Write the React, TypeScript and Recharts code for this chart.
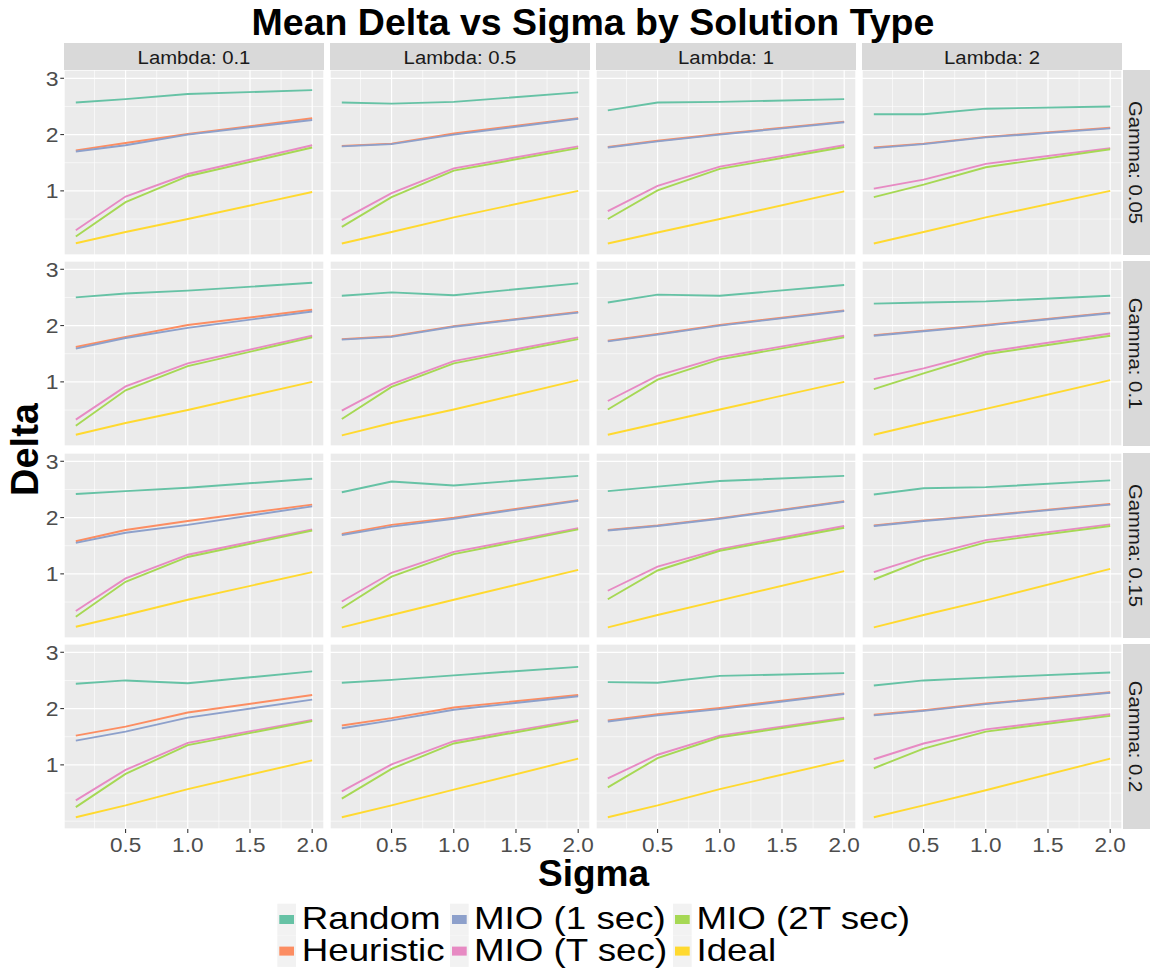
import React from 'react';
import { LineChart, Line, XAxis, YAxis, CartesianGrid } from 'recharts';

const SIGMA = [0.1, 0.5, 1.0, 2.0];
const LAMBDA_LABELS = ['0.1', '0.5', '1', '2'];
const GAMMA_LABELS = ['0.05', '0.1', '0.15', '0.2'];
const SERIES_KEYS = ['random', 'heuristic', 'mio1', 'miot', 'mio2t', 'ideal'];
const SERIES_NAMES = ['Random', 'Heuristic', 'MIO (1 sec)', 'MIO (T sec)', 'MIO (2T sec)', 'Ideal'];
const SERIES_COLORS = ['#66c2a5', '#fc8d62', '#8da0cb', '#e78ac3', '#a6d854', '#ffd92f'];
const X_TICKS = [0.5, 1, 1.5, 2];
const X_MINOR = [0.25, 0.75, 1.25, 1.75];
const Y_TICKS = [1, 2, 3];
const Y_MINOR = [0, 0.5, 1.5, 2.5];

// values indexed [gamma row][lambda col][sigma index]
const RANDOM = [
  [[2.57, 2.63, 2.72, 2.79], [2.57, 2.55, 2.58, 2.75], [2.43, 2.57, 2.58, 2.63], [2.36, 2.36, 2.46, 2.50]],
  [[2.50, 2.57, 2.62, 2.76], [2.53, 2.59, 2.54, 2.75], [2.41, 2.55, 2.53, 2.72], [2.39, 2.41, 2.43, 2.53]],
  [[2.42, 2.47, 2.53, 2.69], [2.45, 2.64, 2.57, 2.74], [2.47, 2.55, 2.65, 2.74], [2.41, 2.52, 2.54, 2.66]],
  [[2.44, 2.50, 2.45, 2.66], [2.46, 2.51, 2.59, 2.74], [2.47, 2.46, 2.58, 2.63], [2.41, 2.50, 2.55, 2.64]],
];
const HEURISTIC = [
  [[1.72, 1.85, 2.01, 2.29], [1.80, 1.84, 2.02, 2.29], [1.78, 1.89, 2.01, 2.23], [1.77, 1.84, 1.96, 2.12]],
  [[1.62, 1.80, 2.01, 2.28], [1.76, 1.81, 1.99, 2.24], [1.73, 1.85, 2.01, 2.27], [1.83, 1.91, 2.01, 2.23]],
  [[1.58, 1.78, 1.94, 2.23], [1.71, 1.87, 2.00, 2.31], [1.78, 1.86, 1.99, 2.29], [1.86, 1.95, 2.04, 2.24]],
  [[1.52, 1.68, 1.93, 2.24], [1.70, 1.83, 2.02, 2.24], [1.79, 1.90, 2.01, 2.27], [1.89, 1.97, 2.09, 2.29]],
];
const MIO_1SEC = [
  [[1.70, 1.81, 2.00, 2.26], [1.79, 1.83, 2.00, 2.28], [1.77, 1.88, 2.00, 2.22], [1.76, 1.83, 1.95, 2.11]],
  [[1.59, 1.78, 1.96, 2.25], [1.75, 1.80, 1.98, 2.23], [1.72, 1.84, 2.00, 2.26], [1.82, 1.90, 2.00, 2.22]],
  [[1.55, 1.73, 1.87, 2.20], [1.69, 1.84, 1.98, 2.30], [1.77, 1.85, 1.98, 2.28], [1.85, 1.94, 2.03, 2.23]],
  [[1.43, 1.59, 1.84, 2.16], [1.65, 1.79, 1.98, 2.22], [1.77, 1.88, 1.99, 2.26], [1.88, 1.96, 2.08, 2.28]],
];
const MIO_TSEC = [
  [[0.30, 0.90, 1.30, 1.81], [0.48, 0.96, 1.40, 1.79], [0.64, 1.09, 1.43, 1.81], [1.04, 1.20, 1.48, 1.76]],
  [[0.33, 0.92, 1.33, 1.82], [0.49, 0.96, 1.37, 1.79], [0.66, 1.11, 1.44, 1.82], [1.05, 1.24, 1.53, 1.86]],
  [[0.34, 0.92, 1.34, 1.79], [0.51, 1.02, 1.39, 1.81], [0.70, 1.13, 1.44, 1.85], [1.03, 1.31, 1.60, 1.88]],
  [[0.37, 0.91, 1.39, 1.80], [0.53, 1.01, 1.42, 1.80], [0.76, 1.18, 1.52, 1.84], [1.10, 1.38, 1.63, 1.90]],
];
const MIO_2TSEC = [
  [[0.19, 0.80, 1.26, 1.77], [0.36, 0.89, 1.36, 1.76], [0.50, 1.01, 1.39, 1.78], [0.89, 1.11, 1.42, 1.74]],
  [[0.22, 0.85, 1.28, 1.79], [0.34, 0.91, 1.33, 1.76], [0.51, 1.04, 1.40, 1.79], [0.87, 1.15, 1.49, 1.82]],
  [[0.24, 0.86, 1.30, 1.77], [0.39, 0.95, 1.35, 1.79], [0.55, 1.06, 1.41, 1.82], [0.90, 1.25, 1.56, 1.85]],
  [[0.25, 0.84, 1.35, 1.78], [0.40, 0.93, 1.38, 1.78], [0.60, 1.12, 1.49, 1.82], [0.94, 1.29, 1.59, 1.87]],
];
const IDEAL = [
  [[0.07, 0.27, 0.50, 0.98], [0.065, 0.27, 0.53, 1.00], [0.065, 0.26, 0.50, 0.99], [0.065, 0.27, 0.53, 1.00]],
  [[0.06, 0.27, 0.50, 1.00], [0.05, 0.27, 0.51, 1.03], [0.06, 0.26, 0.51, 1.00], [0.06, 0.27, 0.52, 1.03]],
  [[0.06, 0.27, 0.54, 1.03], [0.05, 0.27, 0.54, 1.07], [0.05, 0.27, 0.53, 1.05], [0.05, 0.27, 0.53, 1.09]],
  [[0.07, 0.28, 0.57, 1.08], [0.07, 0.28, 0.56, 1.11], [0.07, 0.28, 0.57, 1.08], [0.07, 0.28, 0.55, 1.11]],
];

const SERIES_DATA = [RANDOM, HEURISTIC, MIO_1SEC, MIO_TSEC, MIO_2TSEC, IDEAL];

const FONT = '"Liberation Sans", Arial, Helvetica, sans-serif';
const COL_LEFT = [64, 330, 596, 862];
const ROW_TOP = [70, 261, 453, 644];
const PW = 260;
const PH = 185;
const Y_AXIS_W = 64;
const X_AXIS_H = 46;
const X_DOMAIN: [number, number] = [0.005, 2.095];
const Y_DOMAIN: [number, number] = [-0.139, 3.147];

function panelData(r: number, c: number) {
  return SIGMA.map((s, i) => {
    const row: any = { sigma: s };
    SERIES_KEYS.forEach((k, si) => {
      row[k] = SERIES_DATA[si][r][c][i];
    });
    return row;
  });
}

const XTick = (props: any) => {
  const { x, y, payload } = props;
  return (
    <g transform={`translate(${x},${y}) scale(1.1,1)`}>
      <text x={0} y={0} dy="0.71em" textAnchor="middle" fontSize={20.5} fill="#4d4d4d" fontFamily={FONT}>
        {Number(payload.value).toFixed(1)}
      </text>
    </g>
  );
};

const YTick = (props: any) => {
  const { x, y, payload } = props;
  return (
    <g transform={`translate(${x},${y}) scale(1.12,1)`}>
      <text x={0} y={0} dy="0.355em" textAnchor="end" fontSize={20.5} fill="#4d4d4d" fontFamily={FONT}>
        {String(payload.value)}
      </text>
    </g>
  );
};

function Panel({ r, c }: { r: number; c: number }) {
  const showY = c === 0;
  const showX = r === 3;
  const width = PW + (showY ? Y_AXIS_W : 0);
  const height = PH + (showX ? X_AXIS_H : 0);
  const left = showY ? COL_LEFT[0] - Y_AXIS_W : COL_LEFT[c];
  const data = panelData(r, c);
  return (
    <div style={{ position: 'absolute', left, top: ROW_TOP[r], width, height }}>
      <LineChart width={width} height={height} data={data} margin={{ top: 0, right: 0, bottom: 0, left: 0 }}>
        <XAxis
          xAxisId="minor"
          type="number"
          dataKey="sigma"
          domain={X_DOMAIN}
          allowDataOverflow
          ticks={X_MINOR}
          hide
        />
        <YAxis yAxisId="minor" type="number" domain={Y_DOMAIN} allowDataOverflow ticks={Y_MINOR} hide />
        <XAxis
          xAxisId="major"
          type="number"
          dataKey="sigma"
          domain={X_DOMAIN}
          allowDataOverflow
          ticks={X_TICKS}
          interval={0}
          hide={!showX}
          height={X_AXIS_H}
          axisLine={false}
          tickLine={{ stroke: '#333333', strokeWidth: 1.07 }}
          tickSize={4}
          tickMargin={4.5}
          tick={<XTick />}
        />
        <YAxis
          yAxisId="major"
          type="number"
          domain={Y_DOMAIN}
          allowDataOverflow
          ticks={Y_TICKS}
          interval={0}
          hide={!showY}
          width={Y_AXIS_W}
          axisLine={false}
          tickLine={{ stroke: '#333333', strokeWidth: 1.07 }}
          tickSize={3.7}
          tickMargin={1.8}
          tick={<YTick />}
        />
        <CartesianGrid
          xAxisId="minor"
          yAxisId="minor"
          fill="#ebebeb"
          stroke="#ffffff"
          strokeWidth={0.6}
        />
        <CartesianGrid xAxisId="major" yAxisId="major" stroke="#ffffff" strokeWidth={1.2} />
        {SERIES_KEYS.map((k, si) => (
          <Line
            key={k}
            xAxisId="major"
            yAxisId="major"
            type="linear"
            dataKey={k}
            name={SERIES_NAMES[si]}
            stroke={SERIES_COLORS[si]}
            strokeWidth={1.9}
            dot={false}
            activeDot={false}
            isAnimationActive={false}
          />
        ))}
      </LineChart>
    </div>
  );
}

const LEGEND_KEY_X = [277.3, 450, 673];
const LEGEND_TEXT_X = [301.7, 474, 696.5];
const LEGEND_ROW_TOP = [903.7, 935.3];
const LEGEND_ROW_H = 31.6;

function Overlay() {
  const rowsCenters = ROW_TOP.map((t) => t + PH / 2);
  return (
    <svg
      width={1151}
      height={976}
      style={{ position: 'absolute', left: 0, top: 0, pointerEvents: 'none' }}
      fontFamily={FONT}
    >
      <text x={593} y={35} textAnchor="middle" fontSize={37.5} fontWeight="bold" fill="#000">
        Mean Delta vs Sigma by Solution Type
      </text>
      {LAMBDA_LABELS.map((l, c) => (
        <g key={'ts' + c}>
          <rect x={COL_LEFT[c]} y={43} width={PW} height={27} fill="#d9d9d9" />
          <text
            transform={`translate(${COL_LEFT[c] + PW / 2},64) scale(1.08,1)`}
            textAnchor="middle"
            fontSize={18.8}
            fill="#1a1a1a"
          >
            {`Lambda: ${l}`}
          </text>
        </g>
      ))}
      {GAMMA_LABELS.map((g, r) => (
        <g key={'rs' + r}>
          <rect x={1123} y={ROW_TOP[r]} width={27} height={PH} fill="#d9d9d9" />
          <text
            transform={`translate(1135.5,${rowsCenters[r]}) rotate(90) scale(1.08,1)`}
            textAnchor="middle"
            dy="0.355em"
            fontSize={18.8}
            fill="#1a1a1a"
          >
            {`Gamma: ${g}`}
          </text>
        </g>
      ))}
      <text
        transform={`translate(24,449.5) rotate(-90)`}
        textAnchor="middle"
        dy="0.355em"
        fontSize={38}
        fontWeight="bold"
        fill="#000"
      >
        Delta
      </text>
      <text x={593.5} y={886} textAnchor="middle" fontSize={37} fontWeight="bold" fill="#000">
        Sigma
      </text>
      {SERIES_NAMES.map((name, i) => {
        const col = Math.floor(i / 2);
        const row = i % 2;
        const ky = LEGEND_ROW_TOP[row];
        const kx = LEGEND_KEY_X[col];
        return (
          <g key={'lg' + i}>
            <rect x={kx} y={ky} width={18.7} height={LEGEND_ROW_H} fill="#f2f2f2" />
            <rect x={kx + 2} y={ky + LEGEND_ROW_H / 2 - 4.5} width={14.7} height={9} fill={SERIES_COLORS[i]} />
            <text
              transform={`translate(${LEGEND_TEXT_X[col]},${ky + 25.6}) scale(1.17,1)`}
              fontSize={31.4}
              fill="#000"
            >
              {name}
            </text>
          </g>
        );
      })}
    </svg>
  );
}

export default function App() {
  const panels: any[] = [];
  for (let r = 0; r < 4; r++) {
    for (let c = 0; c < 4; c++) {
      panels.push(<Panel key={`${r}-${c}`} r={r} c={c} />);
    }
  }
  return (
    <div
      style={{
        position: 'absolute',
        left: 0,
        top: 0,
        width: 1151,
        height: 976,
        background: '#ffffff',
        fontFamily: FONT,
        overflow: 'hidden',
      }}
    >
      <style>{`.recharts-surface { overflow: visible; } .recharts-wrapper { overflow: visible; }`}</style>
      {panels}
      <Overlay />
    </div>
  );
}
